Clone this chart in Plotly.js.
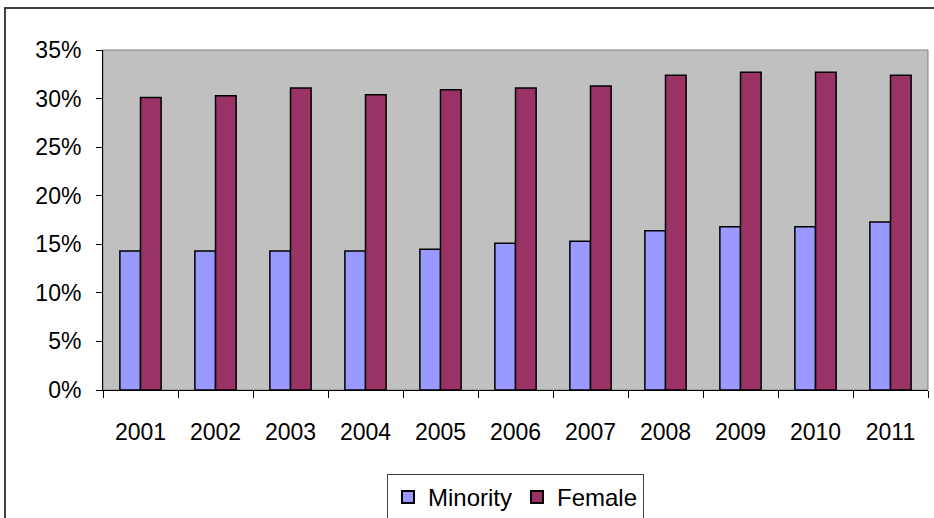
<!DOCTYPE html>
<html>
<head>
<meta charset="utf-8">
<script src="https://cdn.plot.ly/plotly-3.0.1.min.js"></script>
<style>
  html, body { margin: 0; padding: 0; background: #ffffff; }
  #chart { width: 934px; height: 518px; }
</style>
</head>
<body>
<div id="chart"></div>
<script>
// Data (percent)
const years = ['2001','2002','2003','2004','2005','2006','2007','2008','2009','2010','2011'];
const minority = [14.3, 14.3, 14.3, 14.3, 14.5, 15.1, 15.3, 16.4, 16.8, 16.8, 17.3];
const female   = [30.1, 30.3, 31.1, 30.4, 30.9, 31.1, 31.3, 32.4, 32.7, 32.7, 32.4];
const yTicks = [0, 5, 10, 15, 20, 25, 30, 35];

const FONT = '"Liberation Sans", Arial, sans-serif';
const L = 103, R = 6, T = 50, B = 128;
const W = 934, H = 518;
const pw = W - L - R, ph = H - T - B;
const px = v => (v - L) / pw;
const py = v => (H - B - v) / ph;

const traces = [
  {
    type: 'bar', name: 'Minority', x: years, y: minority,
    marker: { color: '#9999FF', line: { color: '#000000', width: 1.5 } },
    hoverinfo: 'x+y'
  },
  {
    type: 'bar', name: 'Female', x: years, y: female,
    marker: { color: '#993366', line: { color: '#000000', width: 1.5 } },
    hoverinfo: 'x+y'
  }
];

const layout = {
  width: W, height: H,
  margin: { l: L, r: R, t: T, b: B, pad: 0, autoexpand: false },
  paper_bgcolor: '#ffffff',
  plot_bgcolor: '#C0C0C0',
  barmode: 'group',
  bargap: 0.45,
  bargroupgap: 0,
  font: { family: FONT, size: 23, color: '#000000' },
  showlegend: true,
  legend: {
    orientation: 'h',
    x: 0.5, xanchor: 'center',
    y: py(474), yanchor: 'top',
    bgcolor: '#ffffff',
    bordercolor: '#404040', borderwidth: 1,
    font: { family: FONT, size: 24, color: '#000000' },
    itemsizing: 'constant',
    traceorder: 'normal'
  },
  xaxis: {
    type: 'category',
    automargin: false,
    showgrid: false, zeroline: false,
    showline: true, linecolor: '#000000', linewidth: 1,
    ticks: 'outside', ticklen: 7, tickcolor: '#000000', tickwidth: 1,
    tickson: 'boundaries',
    ticklabelstandoff: 21,
    tickfont: { family: FONT, size: 23, color: '#000000' },
    fixedrange: true
  },
  yaxis: {
    range: [0, 35],
    automargin: false,
    tickvals: yTicks,
    ticktext: yTicks.map(v => v + '%'),
    showgrid: false, zeroline: false,
    showline: true, linecolor: '#000000', linewidth: 1,
    ticks: 'outside', ticklen: 6, tickcolor: '#000000', tickwidth: 1,
    ticklabelstandoff: 10,
    tickfont: { family: FONT, size: 23, color: '#000000' },
    fixedrange: true
  },
  shapes: [
    {
      type: 'rect', xref: 'paper', yref: 'paper', layer: 'below',
      x0: 0, x1: 1, y0: 0, y1: 1,
      line: { color: '#808080', width: 1 }, fillcolor: 'rgba(0,0,0,0)'
    },
    {
      type: 'rect', xref: 'paper', yref: 'paper', layer: 'above',
      x0: px(5), x1: px(950), y0: py(8), y1: py(540),
      line: { color: '#404040', width: 2 }, fillcolor: 'rgba(0,0,0,0)'
    }
  ]
};

Plotly.newPlot('chart', traces, layout, { displayModeBar: false, staticPlot: true });
</script>
</body>
</html>
